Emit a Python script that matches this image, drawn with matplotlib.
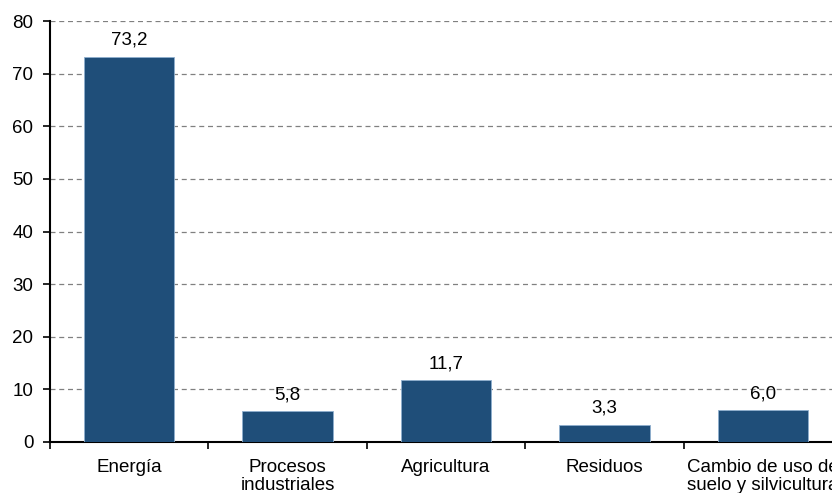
import matplotlib
matplotlib.use("Agg")
import matplotlib.pyplot as plt
import numpy as np

categories = ["Energía", "Procesos\nindustriales", "Agricultura", "Residuos",
              "Cambio de uso de\nsuelo y silvicultura"]
values = [73.2, 5.8, 11.7, 3.3, 6.0]
value_labels = ["73,2", "5,8", "11,7", "3,3", "6,0"]
yticks = [0, 10, 20, 30, 40, 50, 60, 70, 80]

plt.rcParams['font.family'] = ['Liberation Sans', 'DejaVu Sans']
FS = 13.5

fig = plt.figure(figsize=(8.32, 4.93), dpi=100)
ax = fig.add_axes([50/832, 1-442/493, 792/832, 421/493])

x = np.arange(len(categories))
bars = ax.bar(x, values, width=0.57, color="#1F4E79", edgecolor="#8FAFCF",
              linewidth=0.6, zorder=3)
for xi, v, lab in zip(x, values, value_labels):
    ax.annotate(lab, (xi, v), xytext=(0, 6), textcoords="offset points",
                ha="center", va="bottom", fontsize=FS, color="#000000")

ax.set_xlim(-0.5, len(categories) - 0.5)
ax.set_ylim(0, 80)
ax.set_yticks(yticks)
ax.set_yticklabels([str(t) for t in yticks], fontsize=FS)
ax.yaxis.grid(True, linestyle=(0, (4, 3)), color="#808080", linewidth=0.9, zorder=0)
ax.set_axisbelow(True)

ax.set_xticks(x)
ax.set_xticklabels(categories, fontsize=FS, linespacing=1.1)
ax.tick_params(axis='x', length=0, pad=12)
ax.set_xticks(np.arange(len(categories) + 1) - 0.5, minor=True)
ax.tick_params(axis='x', which='minor', length=5, width=1.2, direction='out')
ax.tick_params(axis='y', length=5, width=1.2, direction='out', pad=7)

for s in ["top", "right"]:
    ax.spines[s].set_visible(False)
ax.spines["left"].set_linewidth(1.5)
ax.spines["bottom"].set_linewidth(1.5)

fig.savefig("out.png", dpi=100)
